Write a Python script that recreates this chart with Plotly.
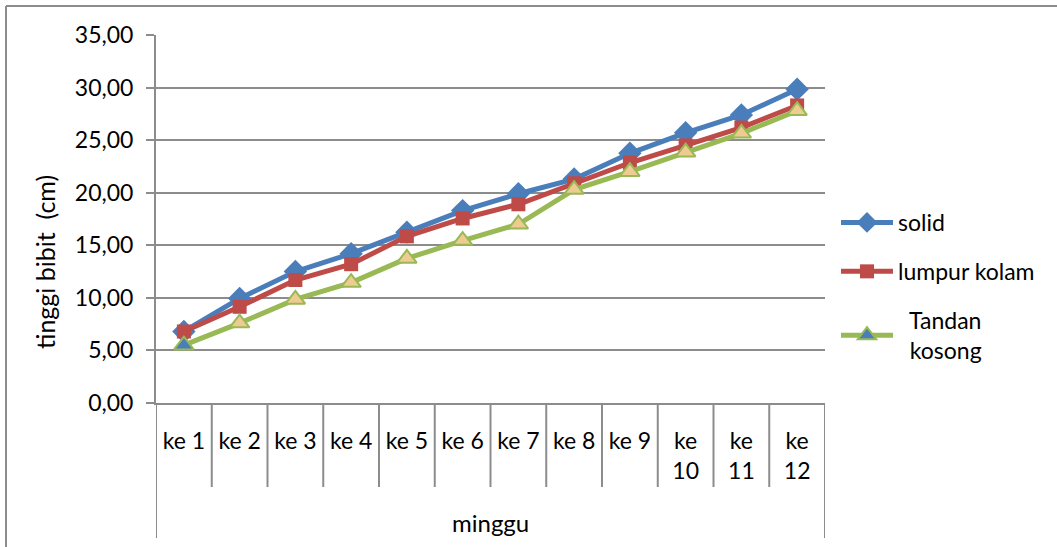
import plotly.graph_objects as go

# Weekly seedling height (cm) for three growing media
weeks = ["ke 1", "ke 2", "ke 3", "ke 4", "ke 5", "ke 6", "ke 7", "ke 8", "ke 9", "ke 10", "ke 11", "ke 12"]
week_labels = ["ke 1", "ke 2", "ke 3", "ke 4", "ke 5", "ke 6", "ke 7", "ke 8", "ke 9",
               "ke<br>10", "ke<br>11", "ke<br>12"]
solid = [6.80, 9.95, 12.50, 14.20, 16.25, 18.30, 19.90, 21.30, 23.75, 25.70, 27.40, 29.85]
lumpur_kolam = [6.80, 9.15, 11.70, 13.20, 15.85, 17.55, 18.90, 20.90, 22.85, 24.50, 26.20, 28.30]
tandan_kosong = [5.50, 7.60, 9.85, 11.45, 13.75, 15.45, 17.00, 20.30, 22.00, 23.85, 25.65, 27.80]

BLUE = "#4A7EBB"
RED = "#BE4B48"
GREEN = "#98B954"
TAN = "#EDCB91"
GRID = "#8C8C8C"
FONT = "Lato, 'Open Sans', sans-serif"
FS = 23

fig = go.Figure()
fig.add_trace(go.Scatter(
    x=weeks, y=solid, name="solid", mode="lines+markers", legendgroup="a",
    line=dict(color=BLUE, width=5),
    marker=dict(symbol="diamond", size=18, color=BLUE),
))
fig.add_trace(go.Scatter(
    x=weeks, y=lumpur_kolam, name="lumpur kolam", mode="lines+markers", legendgroup="b",
    line=dict(color=RED, width=5),
    marker=dict(symbol="square", size=14, color=RED),
))
tri_fill = [BLUE] + [TAN] * (len(weeks) - 1)
fig.add_trace(go.Scatter(
    x=weeks, y=tandan_kosong, name="  Tandan<br>  kosong", mode="lines+markers", legendgroup="c",
    line=dict(color=GREEN, width=5),
    marker=dict(symbol="triangle-up", size=17, color=tri_fill,
                line=dict(color=GREEN, width=2)),
))

# pixel layout of the plotting area
L, R, T, B = 156, 825, 35, 403
W, H = 1057, 547
pw, ph = R - L, B - T


def px_x(x):
    return (x - L) / pw


def px_y(y):
    return (B - y) / ph


shapes = []
# category table lines below the axis
n = len(weeks)
for i in range(n + 1):
    bottom = 538 if i in (0, n) else 487
    shapes.append(dict(type="line", xref="x", yref="paper",
                       x0=i - 0.5, x1=i - 0.5, y0=0, y1=px_y(bottom),
                       line=dict(color=GRID, width=2)))
# outer chart border (top and left)
shapes.append(dict(type="line", xref="paper", yref="paper",
                   x0=px_x(6), x1=px_x(W), y0=px_y(6), y1=px_y(6),
                   line=dict(color=GRID, width=2)))
shapes.append(dict(type="line", xref="paper", yref="paper",
                   x0=px_x(6), x1=px_x(6), y0=px_y(6), y1=px_y(W),
                   line=dict(color=GRID, width=2)))

annotations = [
    dict(text="tinggi bibit  (cm)", xref="paper", yref="paper",
         x=px_x(45), y=px_y(262), xanchor="center", yanchor="middle",
         textangle=-90, showarrow=False,
         font=dict(size=25, color="black", family=FONT)),
    dict(text="minggu", xref="paper", yref="paper",
         x=px_x(490), y=px_y(522), xanchor="center", yanchor="middle",
         showarrow=False,
         font=dict(size=24, color="black", family=FONT)),
]

fig.update_layout(
    width=W, height=H,
    margin=dict(l=L, r=W - R, t=T, b=H - B),
    paper_bgcolor="white", plot_bgcolor="white",
    separators=",.",
    font=dict(family=FONT, size=FS, color="black"),
    shapes=shapes, annotations=annotations,
    legend=dict(x=px_x(836), y=px_y(201), xanchor="left", yanchor="top",
                font=dict(size=FS, family=FONT), traceorder="grouped",
                tracegroupgap=16, itemwidth=52, bgcolor="rgba(0,0,0,0)"),
)
fig.update_xaxes(
    type="category", range=[-0.5, n - 0.5],
    tickvals=weeks, ticktext=week_labels,
    showgrid=False, showline=True, linecolor=GRID, linewidth=2,
    ticks="", ticklabelstandoff=16,
    tickfont=dict(size=FS, family=FONT),
)
fig.update_yaxes(
    range=[0, 35], tick0=0, dtick=5, tickformat=".2f",
    showgrid=True, gridcolor=GRID, gridwidth=2,
    showline=True, linecolor=GRID, linewidth=2,
    ticks="outside", ticklen=8, tickcolor=GRID, tickwidth=2,
    ticklabelstandoff=8, zeroline=False,
    tickfont=dict(size=FS, family=FONT),
)

fig.write_html("out.html")
